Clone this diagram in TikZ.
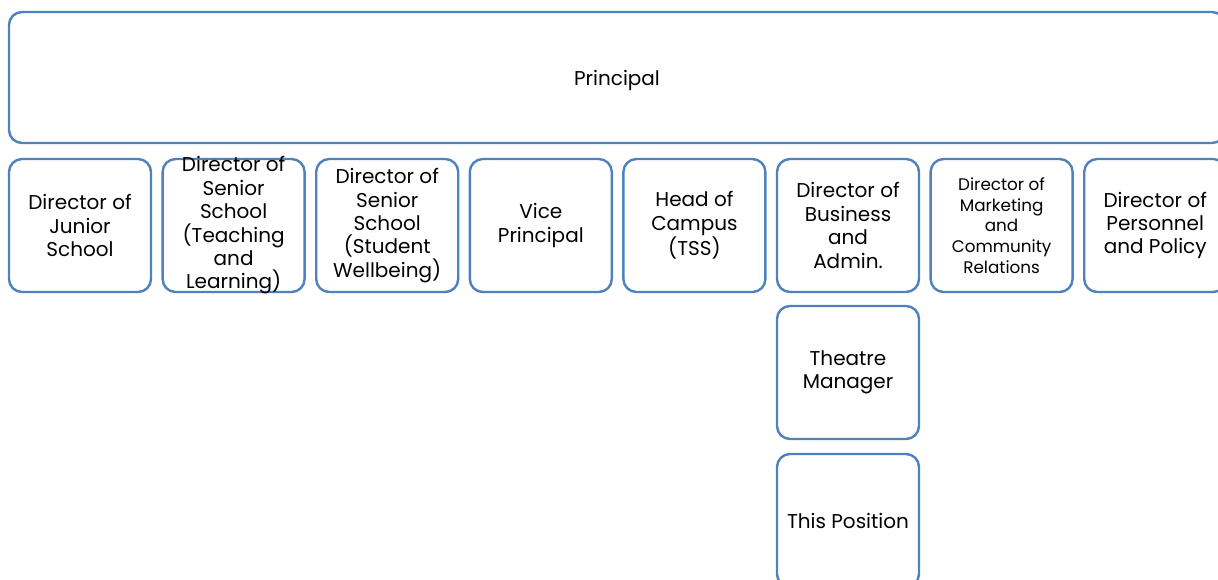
\documentclass[tikz,border=0pt]{standalone}
\usepackage{fontspec}
\setmainfont{Poppins}
\definecolor{boxblue}{RGB}{79,129,189}
\begin{document}
\begin{tikzpicture}[x=0.5pt,y=-0.5pt,
  box/.style={draw=boxblue, line width=1.2pt, rounded corners=6.5pt, fill=white,
    minimum width=71pt, minimum height=66.5pt, inner sep=0pt},
  lbl/.style={align=center, inner sep=0pt, text=black,
    font=\fontsize{10}{11.7}\selectfont},
  small/.style={align=center, inner sep=0pt, text=black,
    font=\fontsize{8.4}{10.4}\selectfont},
]
\clip (0,0) rectangle (1218,579);
\fill[white] (0,0) rectangle (1218,579);

% top box
\node[box, minimum width=608pt, minimum height=65.5pt,
  label={[lbl, yshift=-1.5pt]center:Principal}] (principal) at (617,77.5) {};

% second row
\node[box, label={[lbl]center:Director of\\Junior\\School}] (junior) at (80,225.5) {};
\node[box, label={[lbl]center:Director of\\Senior\\School\\(Teaching\\and\\Learning)}] (teaching) at (233.6,225.5) {};
\node[box, label={[lbl]center:Director of\\Senior\\School\\(Student\\Wellbeing)}] (wellbeing) at (387.2,225.5) {};
\node[box, label={[lbl]center:Vice\\Principal}] (vice) at (540.8,225.5) {};
\node[box, label={[lbl]center:Head of\\Campus\\(TSS)}] (campus) at (694.4,225.5) {};
\node[box, label={[lbl]center:Director of\\Business\\and\\Admin.}] (business) at (848,225.5) {};
\node[box, label={[small]center:Director of\\Marketing\\and\\Community\\Relations}] (marketing) at (1001.6,225.5) {};
\node[box, label={[lbl]center:Director of\\Personnel\\and Policy}] (personnel) at (1155.2,225.5) {};

% under Business and Admin.
\node[box, label={[lbl]center:Theatre\\Manager}] (theatre) at (848,372.5) {};
\node[box, label={[lbl]center:This Position}] (position) at (848,520.5) {};
\end{tikzpicture}
\end{document}
